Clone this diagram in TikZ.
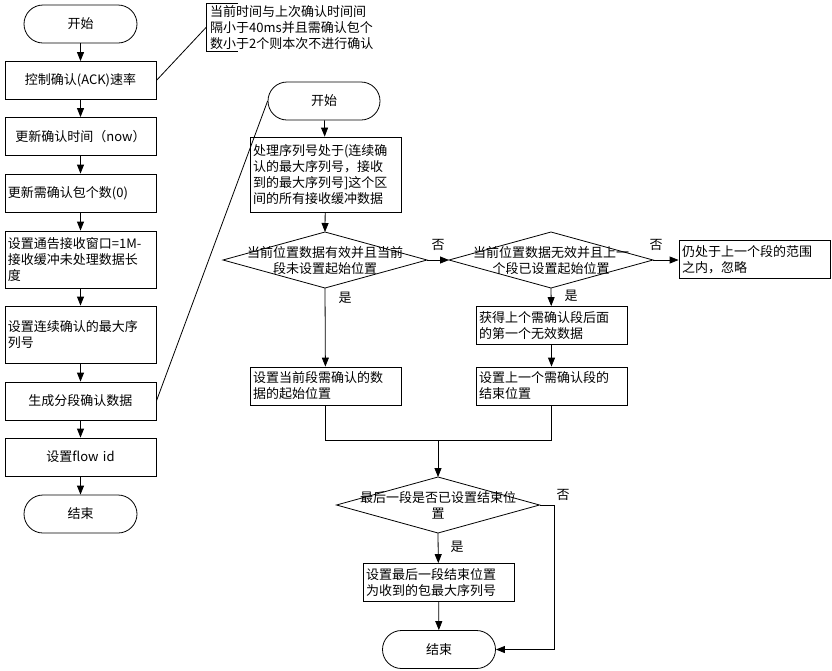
\documentclass[tikz,border=0pt]{standalone}
\usepackage{fontspec}
\setmainfont{Noto Sans CJK SC}
\usetikzlibrary{shapes.geometric,arrows.meta}
\begin{document}
\begin{tikzpicture}[x=1pt,y=-1pt,
  every node/.style={font=\fontsize{13}{16}\selectfont},
  box/.style={draw, line width=0.8pt, minimum height=38pt, text width=145pt, inner xsep=3pt, inner ysep=2pt, align=left},
  cbox/.style={box, align=center},
  term/.style={draw, line width=0.8pt, rounded corners=19pt, minimum width=113pt, minimum height=38pt, inner sep=0pt},
  dia/.style={draw, line width=0.8pt, diamond, minimum width=204pt, minimum height=56pt, inner sep=0pt, outer sep=0pt},
  dtext/.style={align=center, inner sep=0pt},
  arr/.style={-{Triangle[length=9pt,width=7pt]}, line width=0.8pt},
  ln/.style={line width=0.8pt},
  lab/.style={inner sep=0pt}
]
\useasboundingbox (0,0) rectangle (832,670);

% left column
\node[term] (ls) at (80.5,24) {开始};
\node[cbox] (l1) at (80.5,80.5) {控制确认(ACK)速率};
\node[cbox] (l2) at (80.5,136.5) {更新确认时间（now）};
\node[box] (l3) at (80.5,193) {更新需确认包个数(0)};
\node[box, minimum height=57pt] (l4) at (80.5,259.5) {设置通告接收窗口=1M-\\接收缓冲未处理数据长\\度};
\node[box, minimum height=57pt] (l5) at (80.5,334.5) {设置连续确认的最大序\\列号};
\node[cbox] (l6) at (80.5,401) {生成分段确认数据};
\node[cbox] (l7) at (80.5,457) {设置flow id};
\node[term] (le) at (80.5,514) {结束};

\draw[arr] (ls) -- (l1);
\draw[arr] (l1) -- (l2);
\draw[arr] (l2) -- (l3);
\draw[arr] (l3) -- (l4);
\draw[arr] (l4) -- (l5);
\draw[arr] (l5) -- (l6);
\draw[arr] (l6) -- (l7);
\draw[arr] (l7) -- (le);

% annotation
\node[anchor=west, inner xsep=4pt, inner ysep=0pt, minimum height=48pt, align=left] (note) at (206,27.5)
  {当前时间与上次确认时间间\\隔小于40ms并且需确认包个\\数小于2个则本次不进行确认};
\draw[ln] ([xshift=32pt]note.north west) -- (note.north west) -- (note.south west) -- ([xshift=32pt]note.south west);
\draw[ln] (l1.east) -- (note.west);

% right flow
\node[term, minimum width=112pt] (rs) at (324,101) {开始};
\draw[ln] (l6.east) -- (rs.west);

\node[box, minimum height=75pt] (r1) at (325.5,174.5) {处理序列号处于(连续确\\认的最大序列号，接收\\到的最大序列号]这个区\\间的所有接收缓冲数据};

\node[dia] (d1) at (325,260) {};
\node[dtext] (t1) at (325,260.5) {当前位置数据有效并且当前\\段未设置起始位置};
\node[dia] (d2) at (551,260) {};
\node[dtext] (t2) at (551,260.5) {当前位置数据无效并且上一\\个段已设置起始位置};
\node[box] (rn) at (754.5,259.5) {仍处于上一个段的范围\\之内，忽略};

\node[box] (r2) at (551.5,325.5) {获得上个需确认段后面\\的第一个无效数据};
\node[box] (r3) at (551.5,386) {设置上一个需确认段的\\结束位置};
\node[box] (r4) at (325.5,386) {设置当前段需确认的数\\据的起始位置};

\coordinate (j) at (438,440);
\node[dia, minimum width=203pt] (d3) at (438,505) {};
\node[dtext] (t3) at (438,505.5) {最后一段是否已设置结束位\\置};
\node[box] (r5) at (438.5,582.5) {设置最后一段结束位置\\为收到的包最大序列号};
\node[term] (re) at (439,649.5) {结束};

\draw[arr] (rs) -- (r1);
\draw[arr] (r1) -- (d1.north);
\draw[arr] (d1.east) -- (d2.west);
\draw[arr] (d2.east) -- (d2.east -| rn.west);
\draw[arr] (d2.south) -- (r2);
\draw[arr] (r2) -- (r3);
\draw[arr] (d1.south) -- (r4);
\draw[ln] (r4.south) |- (j);
\draw[ln] (r3.south) |- (j);
\draw[arr] (j) -- (d3.north);
\draw[arr] (d3.south) -- (r5);
\draw[arr] (r5) -- (re);
\draw[arr] (d3.east) -- ++(15,0) |- (re.east);

% labels
\node[lab] (n1) at (438,245) {否};
\node[lab] (n2) at (656,245) {否};
\node[lab] (n3) at (563,495) {否};
\node[lab] (y1) at (345,298) {是};
\node[lab] (y2) at (571,296) {是};
\node[lab] (y3) at (457,547) {是};
\end{tikzpicture}
\end{document}
